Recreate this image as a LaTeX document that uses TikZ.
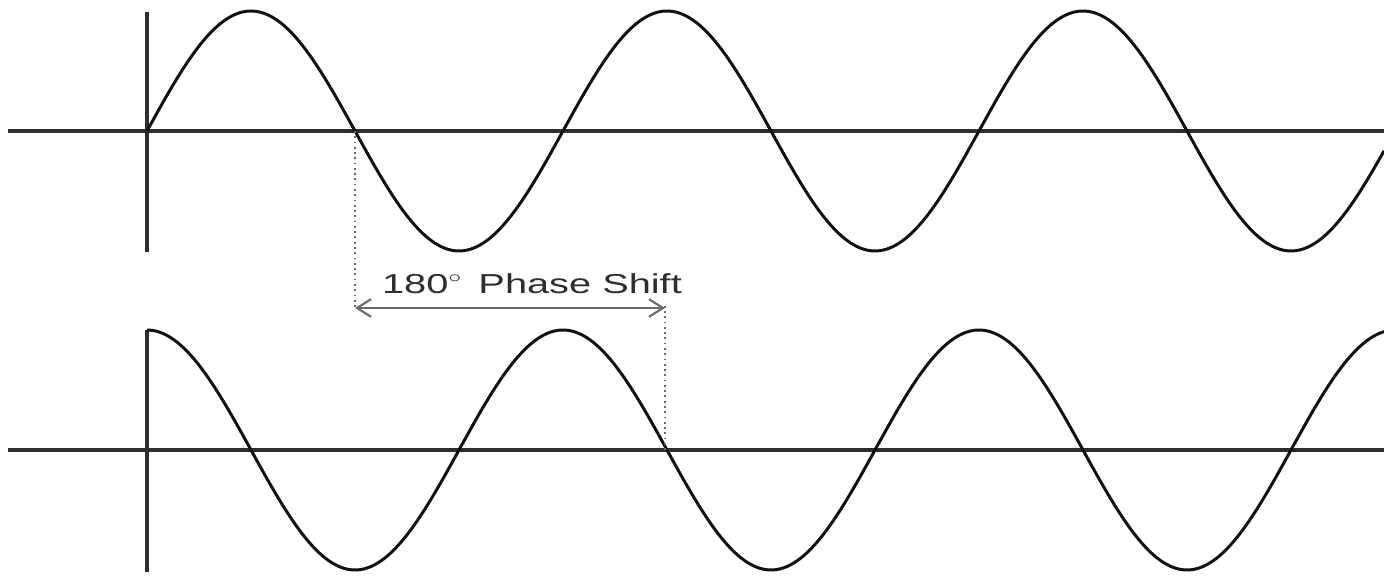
\documentclass[tikz,border=0pt]{standalone}
\usepackage{fontspec}
\setmainfont{Liberation Sans}
\usetikzlibrary{arrows.meta,calc}
\definecolor{ink}{HTML}{111111}
\definecolor{axisgray}{HTML}{2E2E2E}
\definecolor{guide}{HTML}{6A6A6A}

\begin{document}
\begin{tikzpicture}[x=0.01cm,y=0.01cm,>={Straight Barb[length=4pt,width=5pt]},
  axis/.style={line width=1pt,axisgray},
  wave/.style={line width=0.85pt,ink},
  guideline/.style={guide,line width=0.5pt,densely dotted}]
\useasboundingbox (0,0) rectangle (1384,576);
% upper trace (sine)
\begin{scope}
\draw[axis] (8,445) -- (1384,445);
\draw[axis] (147,564) -- (147,324);
\draw[wave] plot[domain=147:1384,samples=240,smooth] (\x,{445+120*sin((\x-147)/416*360)});
\coordinate (zeroTop) at (355,445);
\end{scope}
% lower trace (cosine)
\begin{scope}
\draw[axis] (8,126) -- (1384,126);
\draw[axis] (147,246) -- (147,4);
\draw[wave] plot[domain=147:1384,samples=240,smooth] (\x,{126+120*cos((\x-147)/416*360)});
\coordinate (zeroBot) at (665,126);
\end{scope}
% phase shift marker
\coordinate (leftEnd) at (355,268);
\coordinate (rightEnd) at (665,268);
\draw[guideline] (zeroTop) -- (leftEnd);
\draw[guideline] (zeroBot) -- ($(rightEnd)+(0,4)$);
\draw[<->,guide,line width=0.6pt] (leftEnd) -- (rightEnd);
\node[text=axisgray,font=\fontsize{7.8}{9}\selectfont,xscale=1.45] (shiftlabel) at (532,292)
  {180\raisebox{0.75ex}{\scalebox{0.6}{$\circ$}}\hspace{0.15em} Phase Shift};
\end{tikzpicture}
\end{document}
